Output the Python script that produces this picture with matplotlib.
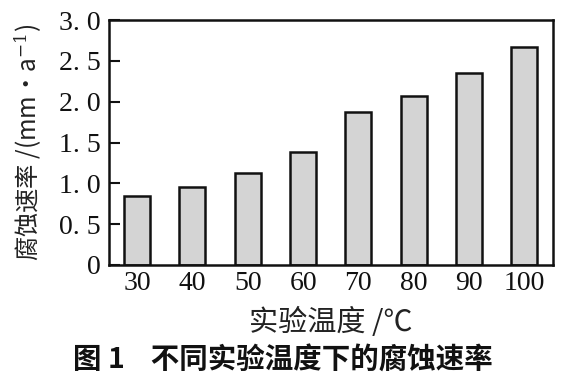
import matplotlib
matplotlib.use("Agg")
import matplotlib.pyplot as plt
import numpy as np

plt.rcParams['font.family'] = ['Noto Sans CJK SC', 'DejaVu Sans']
plt.rcParams['mathtext.fontset'] = 'dejavuserif'

categories = ["30", "40", "50", "60", "70", "80", "90", "100"]
rates = [0.85, 0.96, 1.13, 1.38, 1.87, 2.07, 2.35, 2.67]
yticks = [0, 0.5, 1.0, 1.5, 2.0, 2.5, 3.0]
ytick_labels = ["0", "0. 5", "1. 0", "1. 5", "2. 0", "2. 5", "3. 0"]

fig = plt.figure(figsize=(5.66, 3.89), dpi=100)
ax = fig.add_axes([109/566, 1 - 265/389, (553-109)/566, (265-20)/389])

x = np.arange(len(categories))
ax.bar(x, rates, width=0.47, color='#d4d4d4', edgecolor='#111111', linewidth=1.8, zorder=2)

ax.set_xlim(-0.51, len(categories) - 1 + 0.52)
ax.set_ylim(0, 3.0)
ax.set_xticks(x)
ax.set_xticklabels(categories, fontfamily='Liberation Serif', fontsize=20)
ax.set_yticks(yticks)
ax.set_yticklabels(ytick_labels, fontfamily='Liberation Serif', fontsize=20)
ax.tick_params(axis='both', direction='in', length=8, width=1.5, colors='#111111', labelcolor='#111111')
ax.tick_params(axis='x', pad=4)
ax.tick_params(axis='y', pad=6)
for s in ax.spines.values():
    s.set_linewidth(1.8)
    s.set_color('#111111')

fig.text(28/566, 1 - 142/389, "腐蚀速率 /(mm·a$^{-1}$)", rotation=90, ha='center', va='center',
         fontsize=17.5, color='#222222')
fig.text((109+553)/2/566, 1 - 323/389, "实验温度 /℃", ha='center', va='center', fontsize=21, color='#222222')
fig.text(0.5, 1 - 361/389, "图 1    不同实验温度下的腐蚀速率", ha='center', va='center', fontsize=20.5,
         fontweight='bold', color='#111111')

fig.savefig("out.png", dpi=100)
